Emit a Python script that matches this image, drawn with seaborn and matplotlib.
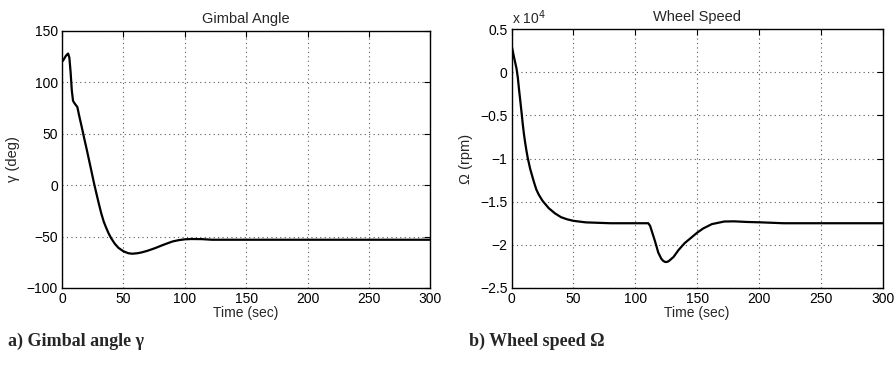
import numpy as np
import pandas as pd
import seaborn as sns
import matplotlib.pyplot as plt
from matplotlib.ticker import FuncFormatter, MultipleLocator

# ---------------------------------------------------------------------------
# Data
# ---------------------------------------------------------------------------
gimbal_t = [0, 1, 2, 3, 4, 5, 6, 7, 8, 9, 10, 12.5, 14, 16, 18, 20, 22, 24,
            26, 28, 30, 32, 34, 36, 38, 40, 43, 46, 50, 54, 57, 61, 65, 70, 76,
            82, 90, 95, 100, 105, 114, 122, 150, 200, 250, 300]
gimbal_deg = [120, 121.5, 123.5, 125.5, 127, 128, 124, 110, 92, 82, 80, 76,
              67.5, 57, 46, 35.5, 24.5, 13.5, 2.3, -8, -18, -27.5, -35.5,
              -41.5, -47, -51.5, -57, -61, -64.3, -66.2, -66.7, -66.3, -65.4,
              -63.7, -61.2, -58.3, -54.8, -53.5, -52.7, -52.4, -52.5, -53.1,
              -53.1, -53.1, -53.1, -53.1]

wheel_t = [0, 2, 4, 5, 6, 7, 8, 9, 10, 11, 12, 13, 15, 18, 20, 22, 25, 30,
           35, 40, 45, 50, 60, 80, 110.5, 112, 114, 116, 118.6, 121, 122.5,
           124, 125.5, 127, 131, 135, 140, 145, 150, 155, 162, 172, 180, 190,
           202, 220, 300]
wheel_rpm = [3100, 1700, 400, -600, -2000, -3300, -4600, -6000, -7200, -8200,
             -9100, -9900, -11200, -12700, -13600, -14200, -14900, -15750,
             -16350, -16800, -17050, -17220, -17400, -17500, -17500, -17800,
             -18700, -19600, -20900, -21600, -21850, -21980, -21990, -21900,
             -21400, -20600, -19800, -19200, -18600, -18100, -17600, -17300,
             -17280, -17350, -17400, -17500, -17500]

gimbal = pd.DataFrame({"t": gimbal_t, "y": gimbal_deg})
wheel = pd.DataFrame({"t": wheel_t, "y": np.array(wheel_rpm) / 1e4})

# ---------------------------------------------------------------------------
# Style
# ---------------------------------------------------------------------------
sns.set_theme(style="white")
plt.rcParams["font.family"] = ["Liberation Sans", "DejaVu Sans"]
plt.rcParams["axes.unicode_minus"] = True

fig = plt.figure(figsize=(8.96, 3.73), dpi=100)
ax1 = fig.add_axes([0.0692, 0.228, 0.411, 0.689])
ax2 = fig.add_axes([0.571, 0.228, 0.414, 0.694])


def fmt(v, pos):
    s = f"{v:g}"
    return s.replace("-", "\u2212")


def style_axes(ax, title, ylabel):
    ax.set_xlim(0, 300)
    ax.xaxis.set_major_locator(MultipleLocator(50))
    ax.grid(True, linestyle=(0, (1, 3)), color="0.35", linewidth=0.8)
    for sp in ax.spines.values():
        sp.set_color("black")
        sp.set_linewidth(1.0)
    ax.tick_params(direction="in", length=4, width=0.8, top=True, right=True,
                   labelsize=10, pad=3, colors="black")
    ax.xaxis.set_major_formatter(FuncFormatter(fmt))
    ax.yaxis.set_major_formatter(FuncFormatter(fmt))
    ax.set_title(title, fontsize=10.5, pad=6)
    ax.set_xlabel("Time (sec)", fontsize=10, labelpad=0)
    ax.set_ylabel(ylabel, fontsize=10.5, labelpad=5)


sns.lineplot(data=gimbal, x="t", y="y", ax=ax1, color="black", linewidth=1.6)
ax1.set_ylim(-100, 150)
ax1.yaxis.set_major_locator(MultipleLocator(50))
style_axes(ax1, "Gimbal Angle", "\u03b3 (deg)")

sns.lineplot(data=wheel, x="t", y="y", ax=ax2, color="black", linewidth=1.6)
ax2.set_ylim(-2.5, 0.5)
ax2.yaxis.set_major_locator(MultipleLocator(0.5))
style_axes(ax2, "Wheel Speed", "\u03a9 (rpm)")
ax2.text(0.0, 1.01, "x 10$^4$", transform=ax2.transAxes, fontsize=10,
         ha="left", va="bottom")

# captions
fig.text(0.009, 0.085, "a) Gimbal angle \u03b3", fontsize=13, fontweight="bold",
         family=["Liberation Serif", "DejaVu Serif"], ha="left", va="center")
fig.text(0.523, 0.085, "b) Wheel speed \u03a9", fontsize=13, fontweight="bold",
         family=["Liberation Serif", "DejaVu Serif"], ha="left", va="center")

fig.savefig("out.png", dpi=100)
